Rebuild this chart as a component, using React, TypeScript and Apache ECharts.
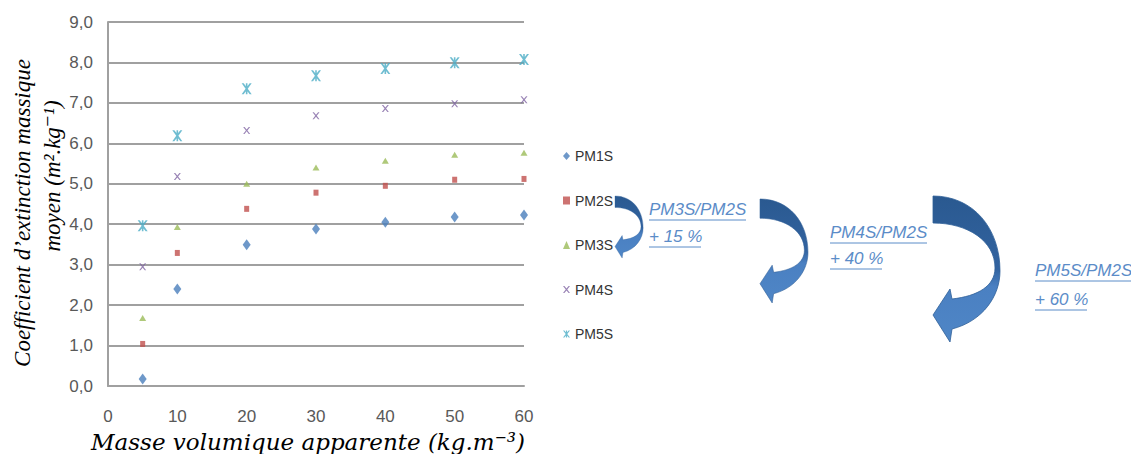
import React, { useEffect, useRef } from "react";
import * as echarts from "echarts";

const xValues = [5, 10, 20, 30, 40, 50, 60];
const seriesNames = ["PM1S", "PM2S", "PM3S", "PM4S", "PM5S"];
const pm1s = [0.17, 2.4, 3.49, 3.88, 4.05, 4.18, 4.23];
const pm2s = [1.04, 3.29, 4.38, 4.78, 4.95, 5.1, 5.12];
const pm3s = [1.68, 3.93, 5.0, 5.4, 5.57, 5.72, 5.77];
const pm4s = [2.95, 5.18, 6.32, 6.68, 6.86, 6.98, 7.08];
const pm5s = [3.96, 6.19, 7.35, 7.67, 7.85, 7.99, 8.07];
const seriesValues = [pm1s, pm2s, pm3s, pm4s, pm5s];
const seriesColors = ["#4a7ebb", "#c0504d", "#9bbb59", "#8064a2", "#4bacc6"];

const annotations = [
  { ratio: "PM3S/PM2S", gain: "+ 15 %" },
  { ratio: "PM4S/PM2S", gain: "+ 40 %" },
  { ratio: "PM5S/PM2S", gain: "+ 60 %" },
];

const X_MARK =
  "path://M0,0L2,0L5,3.6L8,0L10,0L6.1,5L10,10L8,10L5,6.4L2,10L0,10L3.9,5Z";
const STAR_MARK =
  "path://M0,0L2,0L5,3.6L8,0L10,0L6.1,5L10,10L8,10L5,6.4L2,10L0,10L3.9,5Z M4.2,0L5.8,0L5.8,10L4.2,10Z";
const symbols = ["diamond", "rect", "triangle", X_MARK, STAR_MARK];
const symbolSizes: any[] = [[8, 11], [5, 6], [7, 6], [7, 7], [10, 11]];

const ARROW_D =
  "M0,0 C40,0 67,32 67,75 C67,100 50,125 19,133 L17,146 L0,119 L17,93 L19,103 C45,100 62,90 62,72 C62,45 35,27 0,27 Z";

let registered = false;
function ensureShape() {
  if (registered) return;
  echarts.graphic.registerShape(
    "curvedArrow",
    echarts.graphic.extendPath(ARROW_D, {}) as any
  );
  registered = true;
}

const SANS = "'Liberation Sans', Arial, sans-serif";
const SERIF = "'Liberation Serif', 'DejaVu Serif', serif";

export default function App() {
  const ref = useRef<HTMLDivElement>(null);
  useEffect(() => {
    if (!ref.current) return;
    ensureShape();
    const chart = echarts.init(ref.current, undefined, { renderer: "svg" });

    const arrowFill = () =>
      new echarts.graphic.LinearGradient(0, 0, 0, 1, [
        { offset: 0, color: "#2a5990" },
        { offset: 0.5, color: "#3263a0" },
        { offset: 0.62, color: "#4a80c2" },
        { offset: 1, color: "#4f86c6" },
      ]);

    const arrows = [
      { x: 615, y: 196, sx: 0.42, sy: 0.425 },
      { x: 760, y: 199, sx: 0.716, sy: 0.712 },
      { x: 933, y: 196, sx: 1, sy: 1 },
    ];
    const annoPos = [
      { x: 649, y1: 209, y2: 236 },
      { x: 830, y1: 232, y2: 258 },
      { x: 1035, y1: 270, y2: 299 },
    ];
    const annoColor = "#5b8cc8";
    const annoFont = `italic 17px ${SANS}`;

    const graphics: any[] = [];
    arrows.forEach((a) => {
      graphics.push({
        type: "curvedArrow",
        x: a.x,
        y: a.y,
        scaleX: a.sx,
        scaleY: a.sy,
        silent: true,
        style: { fill: arrowFill(), stroke: "#2f5f98", lineWidth: 0.8 },
      });
    });
    annotations.forEach((an, i) => {
      const p = annoPos[i];
      graphics.push({
        type: "text",
        x: p.x,
        y: p.y1,
        style: {
          text: an.ratio,
          font: annoFont,
          fill: annoColor,
          textAlign: "left",
          textVerticalAlign: "middle",
          align: "left",
          verticalAlign: "middle",
        },
      });
      graphics.push({
        type: "line",
        shape: { x1: p.x, y1: p.y1 + 11, x2: p.x + 97, y2: p.y1 + 11 },
        style: { stroke: annoColor, lineWidth: 1 },
      });
      graphics.push({
        type: "text",
        x: p.x,
        y: p.y2,
        style: {
          text: an.gain,
          font: annoFont,
          fill: annoColor,
          textAlign: "left",
          textVerticalAlign: "middle",
          align: "left",
          verticalAlign: "middle",
        },
      });
      graphics.push({
        type: "line",
        shape: { x1: p.x, y1: p.y2 + 11, x2: p.x + 52, y2: p.y2 + 11 },
        style: { stroke: annoColor, lineWidth: 1 },
      });
    });
    // axis titles
    graphics.push({
      type: "text",
      x: 22,
      y: 213,
      rotation: Math.PI / 2,
      style: {
        text: "Coefficient d\u2019extinction massique",
        font: `italic 23px ${SERIF}`,
        fill: "#000",
        textAlign: "center",
        textVerticalAlign: "middle",
        align: "center",
        verticalAlign: "middle",
      },
    });
    graphics.push({
      type: "text",
      x: 52,
      y: 176,
      rotation: Math.PI / 2,
      style: {
        text: "moyen (m\u00b2.kg\u207b\u00b9)",
        font: `italic 23px ${SERIF}`,
        fill: "#000",
        textAlign: "center",
        textVerticalAlign: "middle",
        align: "center",
        verticalAlign: "middle",
      },
    });
    graphics.push({
      type: "text",
      x: 308,
      y: 442,
      style: {
        text: "Masse volumique apparente (kg.m\u207b\u00b3)",
        font: "italic 23px 'DejaVu Serif', serif",
        fill: "#000",
        textAlign: "center",
        textVerticalAlign: "middle",
        align: "center",
        verticalAlign: "middle",
      },
    });

    const option: any = {
      animation: false,
      backgroundColor: "#ffffff",
      grid: { left: 108, right: 607, top: 22, bottom: 68, containLabel: false },
      xAxis: {
        type: "value",
        min: 0,
        max: 60,
        interval: 10,
        splitLine: { show: false },
        axisLine: { show: true, lineStyle: { color: "#a0a0a0", width: 2 } },
        axisTick: { show: false },
        axisLabel: {
          color: "#595959",
          fontSize: 17,
          fontFamily: SANS,
          margin: 22,
        },
      },
      yAxis: {
        type: "value",
        min: 0,
        max: 9,
        interval: 1,
        splitLine: { show: true, lineStyle: { color: "#a0a0a0", width: 2 } },
        axisLine: { show: true, lineStyle: { color: "#a0a0a0", width: 2 } },
        axisTick: { show: false },
        axisLabel: {
          color: "#595959",
          fontSize: 17,
          fontFamily: SANS,
          margin: 15,
          formatter: (v: number) => v.toFixed(1).replace(".", ","),
        },
      },
      legend: {
        orient: "vertical",
        left: 558,
        top: 143,
        itemWidth: 7,
        itemHeight: 8,
        itemGap: 28.5,
        data: seriesNames,
        textStyle: {
          fontSize: 14,
          lineHeight: 16,
          color: "#333333",
          fontFamily: SANS,
        },
      },
      series: seriesNames.map((name, i) => ({
        name,
        type: "scatter",
        symbol: symbols[i],
        symbolSize: symbolSizes[i],
        itemStyle: { color: seriesColors[i] },
        data: xValues.map((x, j) => [x, seriesValues[i][j]]),
      })),
      graphic: graphics,
    };
    chart.setOption(option);
    return () => chart.dispose();
  }, []);
  return (
    <div
      ref={ref}
      style={{ position: "fixed", left: 0, top: 0, width: 1131, height: 454, background: "#fff" }}
    />
  );
}
